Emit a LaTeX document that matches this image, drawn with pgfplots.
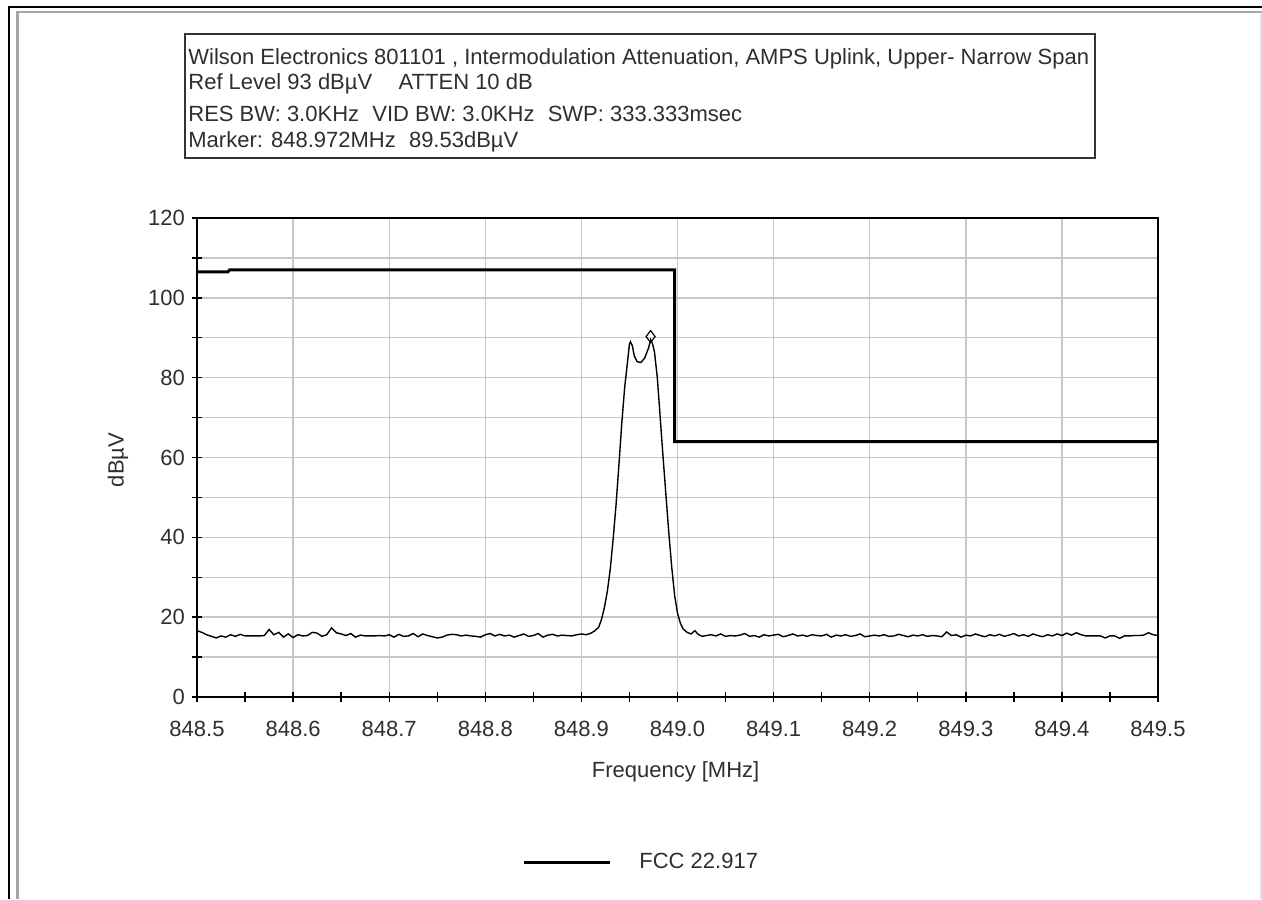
\documentclass[border=0pt]{standalone}
\usepackage{fontspec}
\setmainfont{Liberation Sans}
\usepackage{pgfplots}
\pgfplotsset{compat=1.18}
\definecolor{gridgrey}{gray}{0.78}
\definecolor{txt}{gray}{0.18}

% FCC 22.917 limit mask
\pgfplotstableread{
x y
848.500 106.5
848.532 106.5
848.534 107.0
848.997 107.0
848.997 64.0
849.500 64.0
}\limittab

% measured trace
\pgfplotstableread{
x y
848.500 16.6
848.505 16.2
848.510 15.6
848.515 15.2
848.520 14.8
848.525 15.3
848.530 15.0
848.535 15.6
848.540 15.2
848.545 15.7
848.550 15.3
848.555 15.3
848.560 15.3
848.565 15.3
848.570 15.4
848.575 16.9
848.580 15.6
848.585 16.2
848.590 15.0
848.595 15.8
848.600 14.9
848.605 15.6
848.610 15.3
848.615 15.4
848.620 16.2
848.625 16.0
848.630 15.2
848.635 15.6
848.640 17.3
848.645 16.1
848.650 15.8
848.655 15.4
848.660 15.9
848.665 15.0
848.670 15.5
848.675 15.3
848.680 15.3
848.685 15.3
848.690 15.4
848.695 15.3
848.700 15.6
848.705 15.0
848.710 15.7
848.715 15.2
848.720 15.3
848.725 15.9
848.730 15.1
848.735 15.8
848.740 15.4
848.745 15.1
848.750 14.8
848.755 15.0
848.760 15.5
848.765 15.7
848.770 15.6
848.775 15.3
848.780 15.5
848.785 15.3
848.790 15.2
848.795 15.0
848.800 15.6
848.805 15.9
848.810 15.3
848.815 15.7
848.820 15.3
848.825 15.5
848.830 15.0
848.835 15.4
848.840 15.8
848.845 15.2
848.850 15.4
848.855 15.9
848.860 15.0
848.865 15.5
848.870 15.7
848.875 15.3
848.880 15.5
848.885 15.4
848.890 15.3
848.895 15.6
848.900 15.8
848.905 15.6
848.910 16.0
848.914 16.6
848.918 17.5
848.921 19.5
848.924 22.5
848.927 26.5
848.930 32.0
848.933 39.5
848.936 48.0
848.939 58.0
848.942 68.5
848.945 77.5
848.948 84.0
848.950 88.5
848.951 89.0
848.953 88.0
848.955 85.5
848.958 84.0
848.962 83.8
848.966 85.0
848.970 87.5
848.972 89.5
848.974 88.5
848.976 86.5
848.979 80.0
848.982 70.0
848.985 60.0
848.988 50.5
848.991 41.0
848.994 32.5
848.997 25.5
849.000 21.0
849.003 18.5
849.006 17.0
849.010 16.2
849.014 15.8
849.018 16.6
849.022 15.6
849.026 15.2
849.030 15.4
849.035 15.6
849.040 15.3
849.045 15.8
849.050 15.2
849.055 15.4
849.060 15.3
849.065 15.5
849.070 15.9
849.075 15.2
849.080 15.4
849.085 15.0
849.090 15.6
849.095 15.3
849.100 15.5
849.105 15.7
849.110 15.1
849.115 15.4
849.120 15.8
849.125 15.3
849.130 15.5
849.135 15.2
849.140 15.6
849.145 15.4
849.150 15.3
849.155 15.7
849.160 15.0
849.165 15.5
849.170 15.3
849.175 15.6
849.180 15.2
849.185 15.4
849.190 15.8
849.195 15.1
849.200 15.3
849.205 15.5
849.210 15.3
849.215 15.6
849.220 15.2
849.225 15.3
849.230 15.7
849.235 15.4
849.240 15.1
849.245 15.5
849.250 15.3
849.255 15.6
849.260 15.2
849.265 15.4
849.270 15.3
849.275 15.1
849.280 16.3
849.285 15.4
849.290 15.6
849.295 15.0
849.300 15.5
849.305 15.3
849.310 15.8
849.315 15.4
849.320 15.1
849.325 15.6
849.330 15.3
849.335 15.7
849.340 15.2
849.345 15.5
849.350 15.9
849.355 15.3
849.360 15.6
849.365 15.2
849.370 15.8
849.375 15.4
849.380 15.1
849.385 15.6
849.390 15.3
849.395 15.8
849.400 15.4
849.405 16.0
849.410 15.5
849.415 16.1
849.420 15.6
849.425 15.3
849.430 15.3
849.435 15.3
849.440 15.3
849.445 14.8
849.450 15.3
849.455 15.3
849.460 14.7
849.465 15.3
849.470 15.3
849.475 15.4
849.480 15.4
849.485 15.5
849.490 16.1
849.495 15.6
849.500 15.4
}\tracetab

\begin{document}
\begin{tikzpicture}
% page = 1262 x 899 px at 0.5pt per px
\useasboundingbox (0,0) rectangle (631pt,-449.5pt);
% screenshot frame
\draw[black,line width=1.2pt] (4.5pt,-449.5pt) -- (4.5pt,-3.5pt) -- (631pt,-3.5pt);
\draw[gray!70,line width=1.4pt] (8.75pt,-449.5pt) -- (8.75pt,-6pt) -- (631pt,-6pt);
\draw[gray!25,line width=0.8pt] (630.5pt,-7pt) -- (630.5pt,-449.5pt);

% header box
\draw[black!80,line width=0.9pt] (92.5pt,-17pt) rectangle (547.5pt,-79pt);
\begin{scope}[every node/.style={anchor=base west,inner sep=0pt,font=\fontsize{11}{13}\selectfont,text=txt}]
\node at (94pt,-32.5pt) {Wilson Electronics 801101 , Intermodulation Attenuation, AMPS Uplink, Upper- Narrow Span};
\node at (94pt,-45pt) {Ref Level 93 dBµV\hspace{1.2em}ATTEN 10 dB};
\node at (94pt,-60.5pt) {RES BW: 3.0KHz\hspace{0.6em}VID BW: 3.0KHz\hspace{0.6em}SWP: 333.333msec};
\node at (94pt,-74pt) {Marker: 848.972MHz\hspace{0.6em}89.53dBµV};
\end{scope}

\begin{axis}[
  at={(98.5pt,-348.5pt)}, anchor=south west,
  scale only axis, width=480.5pt, height=239.5pt,
  xmin=848.5, xmax=849.5, ymin=0, ymax=120,
  xtick={848.5,848.6,848.7,848.8,848.9,849.0,849.1,849.2,849.3,849.4,849.5},
  ytick={0,20,40,60,80,100,120},
  minor x tick num=1, minor y tick num=1,
  xtick pos=bottom, ytick pos=left,
  xmajorgrids, ymajorgrids, yminorgrids,
  grid style={gridgrey,line width=0.7pt},
  minor grid style={gridgrey,line width=0.7pt},
  axis line style={black,line width=0.9pt},
  tick align=center, major tick length=5pt, minor tick length=5pt,
  tick style={black,line width=0.7pt},
  /pgf/number format/.cd, fixed, fixed zerofill, precision=1, 1000 sep={},
  assume math mode=true, /pgfplots/.cd,
  yticklabel style={/pgf/number format/precision=0,/pgf/number format/fixed zerofill=false},
  xticklabel style={yshift=-6pt},
  tick label style={font=\fontsize{11}{13}\selectfont,text=txt},
  label style={font=\fontsize{11}{13}\selectfont,text=txt},
  xlabel={Frequency [MHz]},
  ylabel={dBµV},
  xlabel style={at={(axis description cs:0.498,-0.1566)},anchor=center},
  ylabel style={at={(axis description cs:-0.0822,0.495)},anchor=center},
  legend style={at={(axis description cs:0.3382,-0.3445)},anchor=west,
    draw=none,fill=none,inner sep=0pt,
    font=\fontsize{11}{13}\selectfont,text=txt,
    nodes={inner sep=0pt}},
  legend image code/.code={\draw[line width=1.5pt] (0pt,0pt) -- (43pt,0pt);
    \path (57pt,0pt);},
  clip=false,
]
\addplot[black,line width=1.5pt,sharp plot] table[x=x,y=y] {\limittab};
\addlegendentry{FCC 22.917}
\addplot[black,line width=0.7pt,forget plot] table[x=x,y=y] {\tracetab};
\addplot[black,line width=0.6pt,only marks,mark=diamond,mark size=3pt,forget plot]
  coordinates {(848.972,90.3)};
\end{axis}
\end{tikzpicture}
\end{document}
